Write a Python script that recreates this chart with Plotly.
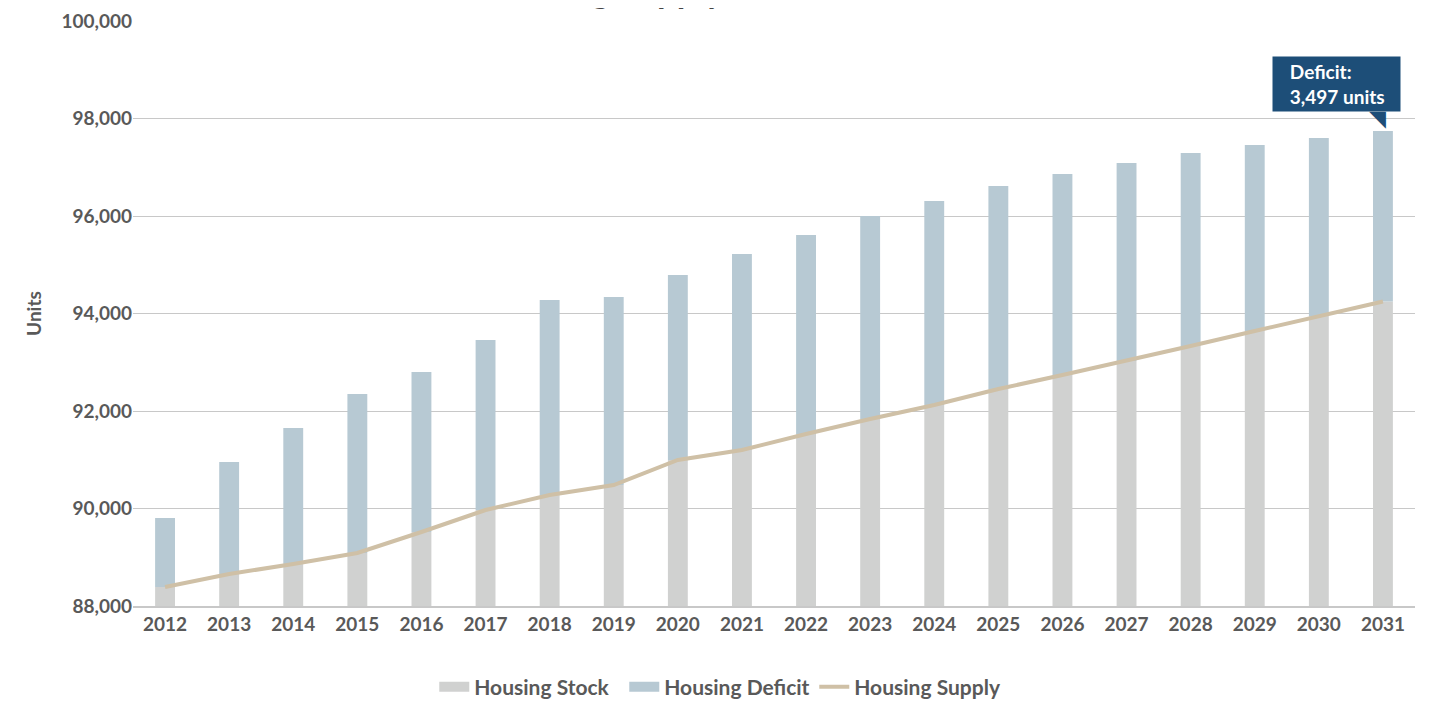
import plotly.graph_objects as go

years = list(range(2012, 2032))
year_labels = [str(y) for y in years]
housing_supply = [88390, 88656, 88862, 89087, 89518, 89969, 90277, 90482, 90995, 91200,
                  91528, 91836, 92123, 92451, 92738, 93026, 93333, 93641, 93949, 94247]
housing_stock = list(housing_supply)
housing_total = [89805, 90954, 91651, 92349, 92800, 93456, 94277, 94338, 94790, 95221,
                 95610, 96000, 96308, 96615, 96862, 97087, 97292, 97456, 97600, 97744]
housing_deficit = [t - s for t, s in zip(housing_total, housing_stock)]
y_ticks = [88000, 90000, 92000, 94000, 96000, 98000, 100000]

FONT = "Lato"
TXT = "#595959"
BAR_W = 0.31
C_STOCK = "#d0d1d0"
C_DEF = "#b7c9d3"
C_SUP = "#cfc0a6"

fig = go.Figure()
fig.add_trace(go.Bar(x=years, y=housing_stock, name="Housing Stock", width=BAR_W,
                     showlegend=False, marker=dict(color=C_STOCK, line=dict(width=0))))
fig.add_trace(go.Bar(x=years, y=housing_deficit, name="Housing Deficit", width=BAR_W,
                     base=housing_stock, showlegend=False,
                     marker=dict(color=C_DEF, line=dict(width=0))))
fig.add_trace(go.Scatter(x=years, y=housing_supply, name="Housing Supply", mode="lines",
                         showlegend=False, line=dict(color=C_SUP, width=4)))

# legend entries (wide swatches like the reference)
for nm, col, w in [("Housing Stock", C_STOCK, 10), ("Housing Deficit", C_DEF, 10),
                   ("Housing Supply", C_SUP, 4)]:
    fig.add_trace(go.Scatter(x=[None], y=[None], mode="lines", name=nm,
                             line=dict(color=col, width=w), hoverinfo="skip"))

fig.update_layout(
    width=1428, height=694,
    barmode="overlay",
    paper_bgcolor="white", plot_bgcolor="white",
    margin=dict(l=125, r=21, t=13, b=96, autoexpand=False),
    font=dict(family=FONT, size=19, color=TXT),
    showlegend=True,
    legend=dict(orientation="h", x=0.235, xanchor="left", y=-0.1385, yanchor="middle",
                font=dict(family=FONT, size=21, color=TXT, weight="bold"),
                itemwidth=30, tracegroupgap=0, traceorder="normal",
                entrywidth=145, entrywidthmode="pixels"),
    xaxis=dict(range=[years[0] - 0.5, years[-1] + 0.5], tickvals=years, ticktext=year_labels,
               showgrid=False, showline=True, linecolor="#c8c8c8", zeroline=False,
               linewidth=2, ticks="", automargin=False,
               tickfont=dict(family=FONT, size=19, color=TXT, weight="bold")),
    yaxis=dict(range=[88000, 100000], tickvals=y_ticks, tickformat=",",
               showgrid=True, gridcolor="#c8c8c8", gridwidth=1, zeroline=False,
               showline=False, ticks="", ticklabelstandoff=0, automargin=False,
               tickfont=dict(family=FONT, size=19, color=TXT, weight="bold"),
               title=dict(text="Units", standoff=14,
                          font=dict(family=FONT, size=19, color=TXT, weight="bold"))),
)

# title that sits mostly above the top edge (as in the reference)
fig.add_annotation(text="Housing Supply", xref="paper", yref="paper",
                   x=0.366, y=1.0156, xanchor="center", yanchor="bottom", showarrow=False,
                   font=dict(family=FONT, size=35, color="#444444", weight="bold"))

# deficit callout
last = len(years) - 1
fig.add_annotation(x=years[last], y=housing_total[last], xref="x", yref="y",
                   text="&nbsp;&nbsp;&nbsp;Deficit:<br>&nbsp;&nbsp;&nbsp;3,497 units",
                   showarrow=True, arrowhead=0,
                   arrowwidth=0.1, arrowcolor="rgba(0,0,0,0)",
                   ax=-46, ay=-47, xanchor="center", yanchor="middle",
                   align="left", bgcolor="#1d4e78", borderpad=3, width=121,
                   font=dict(family=FONT, size=19, color="white", weight="bold"))
fig.add_annotation(x=years[last], y=housing_total[last], xref="x", yref="y",
                   text="◥", showarrow=False, xanchor="right", yanchor="bottom",
                   xshift=5, yshift=-2,
                   font=dict(family="DejaVu Sans", size=22, color="#1d4e78"))

fig.write_html("out.html")
